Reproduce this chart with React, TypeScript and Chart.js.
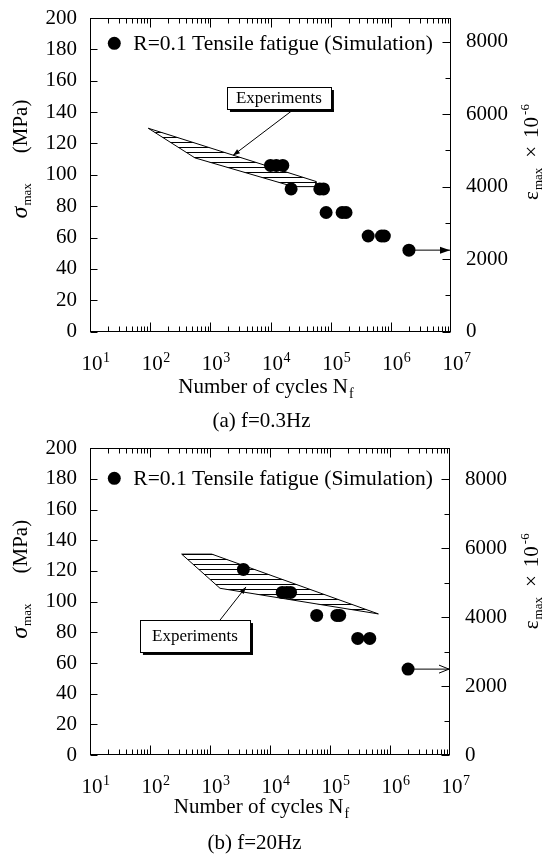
import React, { useEffect, useRef } from "react";
import { Chart, registerables } from "chart.js";

Chart.register(...registerables);

const FONT = "'Liberation Serif', 'Times New Roman', Times, serif";

// ---------------- (a) f = 0.3 Hz ----------------
const simA_cycles = [1.0e4, 1.25e4, 1.6e4, 2.2e4, 6.6e4, 7.6e4, 8.4e4, 1.55e5, 1.8e5, 4.2e5, 7.0e5, 7.8e5, 2.0e6];
const simA_stress = [106, 106, 106, 91, 91, 91, 76, 76, 76, 61, 61, 61, 52];
const expA_cycles = [93, 5.7e4, 5.7e4, 2.4e4, 556, 93];
const expA_stress = [129.7, 95.8, 92.5, 92.5, 110.8, 129.7];
const runoutA_cycles = [2.0e6, 1e7];
const runoutA_stress = [52, 52];

// ---------------- (b) f = 20 Hz ----------------
const simB_cycles = [3.6e3, 1.6e4, 1.9e4, 2.2e4, 6.0e4, 1.3e5, 1.45e5, 2.9e5, 4.6e5, 2.0e6];
const simB_stress = [121, 106, 106, 106, 91, 91, 91, 76, 76, 56];
const expB_cycles = [337, 1070, 6.4e5, 1470, 337];
const expB_stress = [131, 131, 92, 108.7, 131];
const runoutB_cycles = [2.0e6, 1e7];
const runoutB_stress = [56, 56];

// ---------------- axes ----------------
const xDecades = [1e1, 1e2, 1e3, 1e4, 1e5, 1e6, 1e7];
const xMin = 1e1;
const xMax = 1e7;
const stressMax = 200;
const stressStep = 20;
const strainTicks = [0, 1000, 2000, 3000, 4000, 5000, 6000, 7000, 8000];
const strainLabels = ["0", "", "2000", "", "4000", "", "6000", "", "8000"];
const strainMaxA = 8650;
const strainMaxB = 8900;

// ---------------- texts ----------------
const legendLabel = "R=0.1 Tensile fatigue (Simulation)";
const calloutLabel = "Experiments";
const xTitleMain = "Number of cycles N";
const xTitleSub = "f";
const captionA = "(a) f=0.3Hz";
const captionB = "(b) f=20Hz";

// callout anchors in data coordinates [cycles, stress]
const calloutA = { box: [1.89e3, 156, 1.01e5, 142], tail: [2.48e4, 142], head: [2.38e3, 112.4] };
const calloutB = { box: [68, 88, 4.64e3, 67.2], tail: [1.47e3, 88], head: [3.98e3, 109.6] };

type Callout = { box: number[]; tail: number[]; head: number[] };
type PanelCfg = {
  sim: { x: number; y: number }[];
  exp: { x: number; y: number }[];
  runout: { x: number; y: number }[];
  strainMax: number;
  canvasTop: number;
  canvasHeight: number;
  padTop: number;
  padBottom: number;
  rightWidth: number;
  caption: string;
  captionX: number;
  captionDy: number;
  xTitleCx: number;
  xTitleDy: number;
  legendDx: number;
  legendDy: number;
  leftTitleDy: number;
  rightTitleDy: number;
  callout: Callout;
  filledHead: boolean;
};

const zip = (xs: number[], ys: number[]) => xs.map((x, i) => ({ x, y: ys[i] }));

const panelA: PanelCfg = {
  sim: zip(simA_cycles, simA_stress),
  exp: zip(expA_cycles, expA_stress),
  runout: zip(runoutA_cycles, runoutA_stress),
  strainMax: strainMaxA,
  canvasTop: 0,
  canvasHeight: 440,
  padTop: 18,
  padBottom: 440 - 331.7,
  rightWidth: 92,
  caption: captionA,
  captionX: 261.5,
  captionDy: 95,
  xTitleCx: 266,
  xTitleDy: 61.6,
  legendDx: 24.3,
  legendDy: 25.3,
  leftTitleDy: 141,
  rightTitleDy: 134,
  callout: calloutA,
  filledHead: true,
};

const panelB: PanelCfg = {
  sim: zip(simB_cycles, simB_stress),
  exp: zip(expB_cycles, expB_stress),
  runout: zip(runoutB_cycles, runoutB_stress),
  strainMax: strainMaxB,
  canvasTop: 427,
  canvasHeight: 427,
  padTop: 21.3,
  padBottom: 99,
  rightWidth: 93,
  caption: captionB,
  captionX: 254.5,
  captionDy: 94,
  xTitleCx: 261.5,
  xTitleDy: 58,
  legendDx: 24.3,
  legendDy: 30,
  leftTitleDy: 131,
  rightTitleDy: 133,
  callout: calloutB,
  filledHead: false,
};

function hatchPattern(): CanvasPattern | string {
  const c = document.createElement("canvas");
  c.width = 8;
  c.height = 5;
  const g = c.getContext("2d");
  if (!g) return "rgba(0,0,0,0.2)";
  g.fillStyle = "#000";
  g.fillRect(0, 2, 8, 1);
  return g.createPattern(c, "repeat") || "rgba(0,0,0,0.2)";
}

type Part = { t: string; size: number; shift: number; gap: number; italic?: boolean };

function drawRich(ctx: CanvasRenderingContext2D, cx: number, cy: number, parts: Part[], rotate: boolean) {
  ctx.save();
  ctx.translate(cx, cy);
  if (rotate) ctx.rotate(-Math.PI / 2);
  ctx.textAlign = "left";
  ctx.textBaseline = "alphabetic";
  ctx.fillStyle = "#000";
  let total = 0;
  const widths: number[] = [];
  parts.forEach((p) => {
    ctx.font = `${p.italic ? "italic " : ""}${p.size}px ${FONT}`;
    const w = ctx.measureText(p.t).width;
    widths.push(w);
    total += p.gap + w;
  });
  let pos = -total / 2;
  parts.forEach((p, i) => {
    pos += p.gap;
    ctx.font = `${p.italic ? "italic " : ""}${p.size}px ${FONT}`;
    ctx.fillText(p.t, pos, p.shift);
    pos += widths[i];
  });
  ctx.restore();
}

function arrowHead(
  ctx: CanvasRenderingContext2D,
  x0: number,
  y0: number,
  x1: number,
  y1: number,
  len: number,
  half: number,
  filled: boolean
) {
  const ang = Math.atan2(y1 - y0, x1 - x0);
  const bx = x1 - len * Math.cos(ang);
  const by = y1 - len * Math.sin(ang);
  const nx = -Math.sin(ang) * half;
  const ny = Math.cos(ang) * half;
  ctx.beginPath();
  ctx.moveTo(bx + nx, by + ny);
  ctx.lineTo(x1, y1);
  ctx.lineTo(bx - nx, by - ny);
  if (filled) {
    ctx.closePath();
    ctx.fill();
  } else {
    ctx.stroke();
  }
}

function makeDecor(p: PanelCfg) {
  return {
    id: "decor",
    afterDraw(chart: any) {
      const { ctx, chartArea: a, scales } = chart;
      const sx = scales.x;
      const sy = scales.y;
      const sy2 = scales.y2;
      const L = Math.round(a.left) + 0.5;
      const R = Math.round(a.right) - 0.5;
      const T = Math.round(a.top) + 0.5;
      const B = Math.round(a.bottom) - 0.5;
      ctx.save();
      ctx.strokeStyle = "#000";
      ctx.fillStyle = "#000";
      ctx.lineWidth = 1;

      // frame
      ctx.strokeRect(L, T, R - L, B - T);

      // ticks
      ctx.beginPath();
      for (let e = 1; e < 7; e++) {
        for (let m = 1; m <= 9; m++) {
          const v = m * Math.pow(10, e);
          const px = Math.round(sx.getPixelForValue(v)) + 0.5;
          const len = m === 1 ? 9 : 5;
          ctx.moveTo(px, B);
          ctx.lineTo(px, B - len);
          ctx.moveTo(px, T);
          ctx.lineTo(px, T + len);
        }
      }
      sy.ticks.forEach((t: any) => {
        const py = Math.round(sy.getPixelForValue(t.value)) + 0.5;
        ctx.moveTo(L, py);
        ctx.lineTo(L + 7, py);
      });
      sy2.ticks.forEach((t: any) => {
        const py = Math.round(sy2.getPixelForValue(t.value)) + 0.5;
        const len = t.label ? 8 : 5;
        ctx.moveTo(R, py);
        ctx.lineTo(R - len, py);
      });
      ctx.stroke();

      // x tick labels 10^n
      xDecades.forEach((d) => {
        const px = sx.getPixelForValue(d) + 2;
        const base = a.bottom + 38;
        ctx.font = `21px ${FONT}`;
        ctx.textAlign = "center";
        ctx.textBaseline = "alphabetic";
        const w = ctx.measureText("10").width;
        ctx.fillText("10", px, base);
        ctx.font = `14px ${FONT}`;
        ctx.textAlign = "left";
        ctx.fillText(String(Math.round(Math.log10(d))), px + w / 2 + 0.5, base - 8);
      });

      // x title
      drawRich(
        ctx,
        p.xTitleCx,
        a.bottom + p.xTitleDy,
        [
          { t: xTitleMain, size: 21, shift: 0, gap: 0 },
          { t: xTitleSub, size: 14, shift: 5, gap: 1 },
        ],
        false
      );

      // caption
      ctx.font = `21px ${FONT}`;
      ctx.textAlign = "center";
      ctx.textBaseline = "alphabetic";
      ctx.fillText(p.caption, p.captionX, a.bottom + p.captionDy);

      // left title: sigma_max (MPa)
      drawRich(
        ctx,
        27,
        a.top + p.leftTitleDy,
        [
          { t: "\u03c3", size: 24, shift: 0, gap: 0, italic: true },
          { t: "max", size: 13, shift: 4, gap: 1 },
          { t: "(MPa)", size: 21, shift: 0, gap: 30 },
        ],
        true
      );

      // right title: epsilon_max x 10^-6
      drawRich(
        ctx,
        538,
        a.top + p.rightTitleDy,
        [
          { t: "\u03b5", size: 21, shift: 0, gap: 0 },
          { t: "max", size: 13, shift: 4, gap: 1 },
          { t: "\u00d7", size: 21, shift: 0, gap: 10 },
          { t: "10", size: 21, shift: 0, gap: 8 },
          { t: "-6", size: 13, shift: -9, gap: 2 },
        ],
        true
      );

      // legend
      const lx = a.left + p.legendDx;
      const ly = a.top + p.legendDy;
      ctx.beginPath();
      ctx.arc(lx, ly, 6.5, 0, Math.PI * 2);
      ctx.fill();
      ctx.font = `21.5px ${FONT}`;
      ctx.textAlign = "left";
      ctx.textBaseline = "middle";
      ctx.fillText(chart.data.datasets[0].label, lx + 19, ly + 1);

      // runout arrow head
      const meta = chart.getDatasetMeta(1);
      const pts = meta.data;
      if (pts && pts.length > 1) {
        const p0 = pts[0];
        const p1 = pts[pts.length - 1];
        const tipX = p1.x - 1;
        if (p.filledHead) {
          arrowHead(ctx, p0.x, p0.y, tipX, p1.y, 10, 3.5, true);
        } else {
          arrowHead(ctx, p0.x, p0.y, tipX, p1.y, 10, 4, false);
        }
      }

      // callout
      const c = p.callout;
      const bx0 = sx.getPixelForValue(c.box[0]);
      const by0 = sy.getPixelForValue(c.box[1]);
      const bx1 = sx.getPixelForValue(c.box[2]);
      const by1 = sy.getPixelForValue(c.box[3]);
      const tx = sx.getPixelForValue(c.tail[0]);
      const ty = sy.getPixelForValue(c.tail[1]);
      const hx = sx.getPixelForValue(c.head[0]);
      const hy = sy.getPixelForValue(c.head[1]);
      ctx.beginPath();
      ctx.moveTo(tx, ty);
      ctx.lineTo(hx, hy);
      ctx.stroke();
      arrowHead(ctx, tx, ty, hx, hy, 7, 2.5, true);

      ctx.fillStyle = "#000";
      ctx.fillRect(bx0 + 3, by1, bx1 - bx0, 3);
      ctx.fillRect(bx1, by0 + 3, 3, by1 - by0);
      ctx.fillStyle = "#fff";
      ctx.fillRect(bx0, by0, bx1 - bx0, by1 - by0);
      ctx.strokeRect(Math.round(bx0) + 0.5, Math.round(by0) + 0.5, Math.round(bx1 - bx0), Math.round(by1 - by0));
      ctx.fillStyle = "#000";
      ctx.font = `17px ${FONT}`;
      ctx.textAlign = "center";
      ctx.textBaseline = "middle";
      ctx.fillText(calloutLabel, (bx0 + bx1) / 2, (by0 + by1) / 2 + 1);

      ctx.restore();
    },
  };
}

function buildConfig(p: PanelCfg): any {
  const tickFont = { family: FONT, size: 21 };
  return {
    type: "scatter",
    data: {
      datasets: [
        {
          label: legendLabel,
          data: p.sim,
          pointRadius: 6.5,
          pointHoverRadius: 6.5,
          backgroundColor: "#000",
          borderColor: "#000",
          borderWidth: 0,
          showLine: false,
        },
        {
          type: "line",
          label: "runout",
          data: p.runout,
          borderColor: "#000",
          borderWidth: 1,
          pointRadius: 0,
          fill: false,
          tension: 0,
        },
        {
          type: "line",
          label: calloutLabel,
          data: p.exp,
          borderColor: "#000",
          borderWidth: 1,
          backgroundColor: hatchPattern(),
          fill: "shape",
          pointRadius: 0,
          tension: 0,
        },
      ],
    },
    options: {
      responsive: false,
      animation: false,
      events: [],
      layout: { padding: { top: p.padTop, bottom: p.padBottom, left: 0, right: 0 } },
      plugins: { legend: { display: false }, tooltip: { enabled: false }, title: { display: false } },
      scales: {
        x: { type: "logarithmic", min: xMin, max: xMax, display: false },
        y: {
          type: "linear",
          position: "left",
          min: 0,
          max: stressMax,
          ticks: { stepSize: stressStep, color: "#000", font: tickFont, padding: 3, autoSkip: false },
          grid: { display: false, drawTicks: true, tickLength: 10 },
          border: { display: false },
          afterFit: (s: any) => {
            s.width = 90;
          },
        },
        y2: {
          type: "linear",
          position: "right",
          min: 0,
          max: p.strainMax,
          afterBuildTicks: (s: any) => {
            s.ticks = strainTicks.map((v) => ({ value: v }));
          },
          ticks: {
            autoSkip: false,
            color: "#000",
            font: tickFont,
            padding: 3,
            callback: (_v: any, i: number) => strainLabels[i] ?? "",
          },
          grid: { display: false, drawTicks: true, tickLength: 12 },
          border: { display: false },
          afterFit: (s: any) => {
            s.width = p.rightWidth;
          },
        },
      },
    },
    plugins: [makeDecor(p)],
  };
}

function Panel({ cfg }: { cfg: PanelCfg }) {
  const ref = useRef<HTMLCanvasElement>(null);
  useEffect(() => {
    if (!ref.current) return;
    const chart = new Chart(ref.current, buildConfig(cfg));
    return () => chart.destroy();
  }, [cfg]);
  return (
    <canvas
      ref={ref}
      width={543}
      height={cfg.canvasHeight}
      style={{ position: "absolute", left: 0, top: cfg.canvasTop, display: "block", width: 543, height: cfg.canvasHeight }}
    />
  );
}

export default function App() {
  useEffect(() => {
    document.body.style.margin = "0";
  }, []);
  return (
    <div style={{ position: "absolute", left: 0, top: 0, width: 543, height: 854, background: "#fff" }}>
      <Panel cfg={panelA} />
      <Panel cfg={panelB} />
    </div>
  );
}
